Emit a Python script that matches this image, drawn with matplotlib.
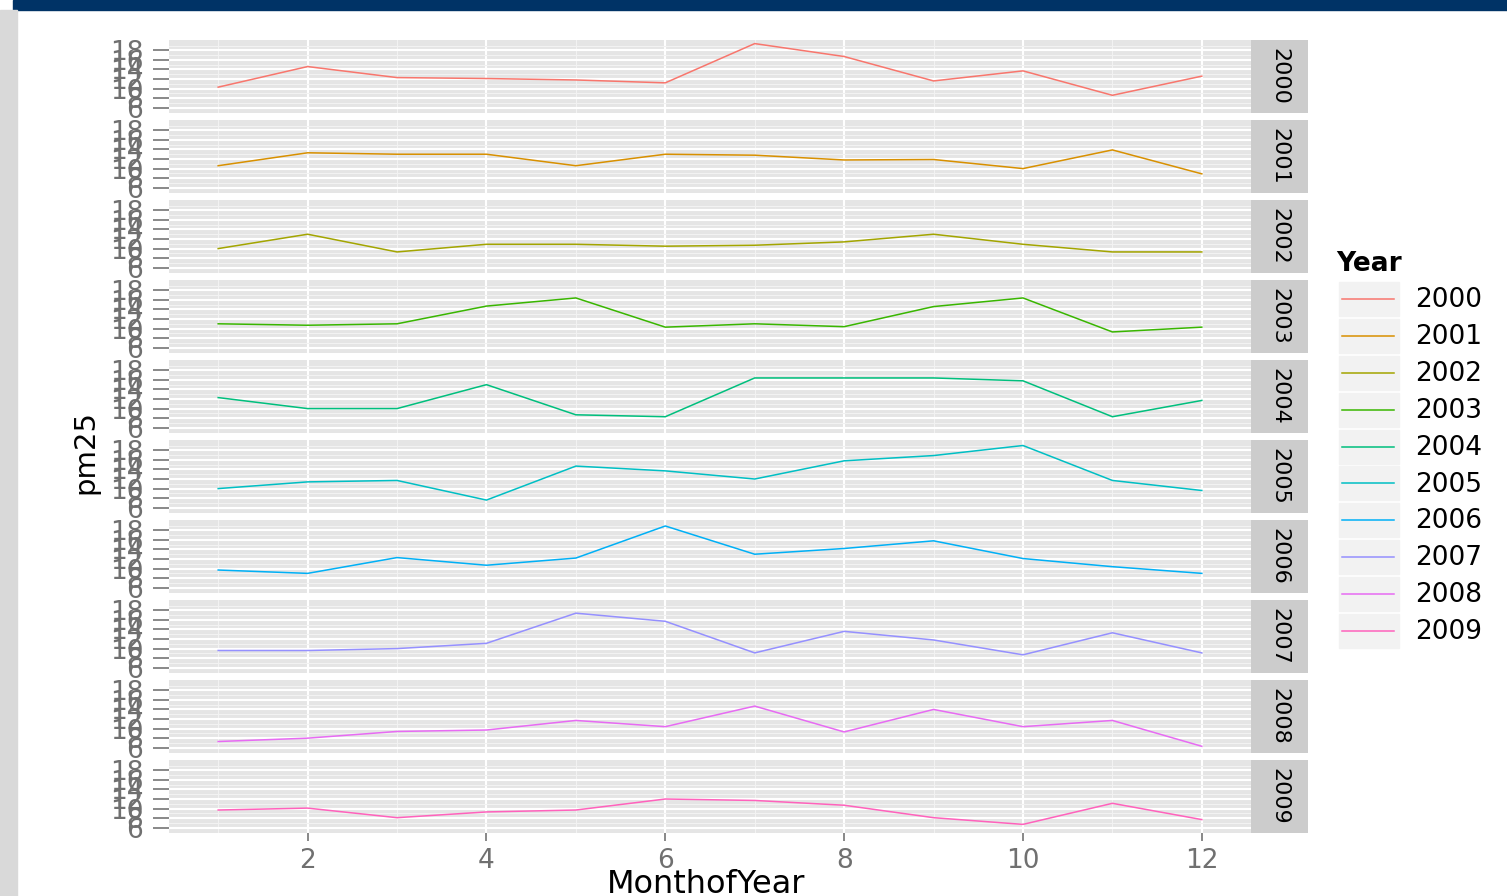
import matplotlib
matplotlib.use('Agg')
import matplotlib.pyplot as plt
from matplotlib.patches import Rectangle
from matplotlib.lines import Line2D

# monthly mean pm25 by year
months = list(range(1, 13))
years = [2000, 2001, 2002, 2003, 2004, 2005, 2006, 2007, 2008, 2009]

pm25_2000 = [10.3, 14.6, 12.3, 12.1, 11.8, 11.2, 19.4, 16.7, 11.6, 13.7, 8.6, 12.6]
pm25_2001 = [10.6, 13.3, 13.0, 13.0, 10.6, 13.0, 12.8, 11.8, 11.9, 10.0, 13.9, 8.9]
pm25_2002 = [10.0, 13.0, 9.3, 10.9, 10.9, 10.5, 10.7, 11.4, 13.0, 10.9, 9.3, 9.3]
pm25_2003 = [11.0, 10.7, 11.0, 14.7, 16.4, 10.3, 11.0, 10.4, 14.6, 16.4, 9.3, 10.3]
pm25_2004 = [12.3, 10.0, 10.0, 15.0, 8.7, 8.3, 16.4, 16.4, 16.4, 15.8, 8.3, 11.7]
pm25_2005 = [10.0, 11.4, 11.7, 7.6, 14.7, 13.7, 12.0, 15.8, 16.9, 19.0, 11.7, 9.6]
pm25_2006 = [9.7, 9.0, 12.3, 10.7, 12.2, 18.9, 13.0, 14.2, 15.8, 12.1, 10.4, 9.0]
pm25_2007 = [9.6, 9.6, 10.0, 11.1, 17.4, 15.7, 9.1, 13.6, 11.8, 8.7, 13.3, 9.1]
pm25_2008 = [7.3, 8.0, 9.4, 9.7, 11.7, 10.4, 14.7, 9.3, 14.0, 10.4, 11.7, 6.3]
pm25_2009 = [9.7, 10.1, 8.1, 9.3, 9.7, 12.0, 11.7, 10.7, 8.1, 6.7, 11.1, 7.7]

series = [pm25_2000, pm25_2001, pm25_2002, pm25_2003, pm25_2004,
          pm25_2005, pm25_2006, pm25_2007, pm25_2008, pm25_2009]
colors = ['#F8766D', '#D89000', '#A3A500', '#39B600', '#00BF7D',
          '#00BFC4', '#00B0F6', '#9590FF', '#E76BF3', '#FF62BC']

W, H = 1507, 896
fig = plt.figure(figsize=(W / 100, H / 100), dpi=100)
fig.patch.set_facecolor('white')


def fx(x):
    return x / W


def fy(y):
    return 1 - y / H


def box(x0, y0, x1, y1):
    return [fx(x0), fy(y1), (x1 - x0) / W, (y1 - y0) / H]


# slide frame: header band and left edge
fig.patches.append(Rectangle((fx(13), fy(10)), 1, 10 / H, transform=fig.transFigure,
                             color='#003366', zorder=0))
fig.patches.append(Rectangle((0, 0), fx(17), fy(10), transform=fig.transFigure,
                             color='#d9d9d9', zorder=0))

tick_grey = '#7f7f7f'
label_grey = '#707070'

for i, (yr, vals, col) in enumerate(zip(years, series, colors)):
    top = 40 + 80 * i
    ax = fig.add_axes(box(169, top, 1251, top + 73))
    ax.set_facecolor('#e5e5e5')
    ax.plot(months, vals, color=col, lw=1.1)
    ax.set_xticks(range(2, 13, 2))
    ax.set_yticks(range(6, 19, 2))
    ax.set_xticks(range(1, 13, 2), minor=True)
    ax.set_yticks(range(5, 20, 2), minor=True)
    ax.set_xlim(0.45, 12.55)
    ax.set_ylim(4.9, 20.15)
    ax.grid(which='major', color='white', lw=1.5)
    ax.grid(which='minor', color='#f2f2f2', lw=0.8)
    ax.set_axisbelow(True)
    for s in ax.spines.values():
        s.set_visible(False)
    ax.tick_params(which='minor', length=0)
    ax.tick_params(axis='y', which='major', length=11.5, width=1.3, color=tick_grey,
                   pad=7, labelsize=19, labelcolor=label_grey)
    if i == len(years) - 1:
        ax.tick_params(axis='x', which='major', length=5.5, width=1.3, color=tick_grey,
                       pad=5, labelsize=19, labelcolor=label_grey)
    else:
        ax.tick_params(axis='x', which='major', length=0, labelbottom=False)

    # facet strip on the right
    sax = fig.add_axes(box(1251, top, 1308, top + 73))
    sax.set_facecolor('#cccccc')
    sax.set_xticks([])
    sax.set_yticks([])
    for s in sax.spines.values():
        s.set_visible(False)
    sax.text(0.5, 0.5, str(yr), rotation=270, ha='center', va='center',
             fontsize=16, color='black', transform=sax.transAxes)

# axis titles
fig.text(fx(85), fy(452), 'pm25', rotation=90, ha='center', va='center',
         fontsize=21, color='black')
fig.text(fx(706), fy(893), 'MonthofYear', ha='center', va='baseline',
         fontsize=23, color='black')

# legend
fig.text(fx(1336), fy(264), 'Year', ha='left', va='center', fontsize=19,
         fontweight='bold', color='black')
for i, (yr, col) in enumerate(zip(years, colors)):
    ky = 282 + 36.9 * i
    fig.patches.append(Rectangle((fx(1339), fy(ky + 34)), 60 / W, 34 / H,
                                 transform=fig.transFigure, color='#f2f2f2'))
    fig.add_artist(Line2D([fx(1342), fx(1394)], [fy(ky + 17), fy(ky + 17)],
                          color=col, lw=1.1, transform=fig.transFigure))
    fig.text(fx(1415), fy(ky + 18), str(yr), ha='left', va='center',
             fontsize=19, color='black')

fig.savefig('out.png', dpi=100)
